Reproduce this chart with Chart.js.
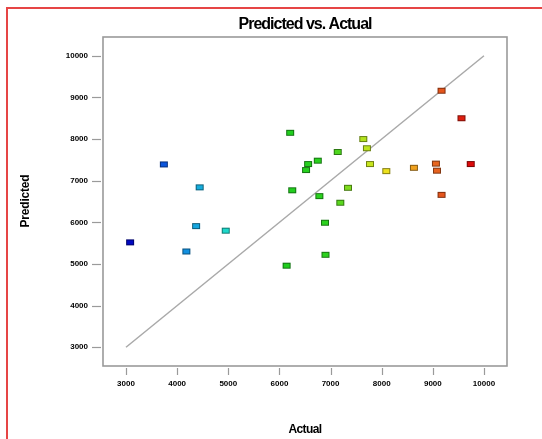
<!DOCTYPE html>
<html>
<head>
<meta charset="utf-8">
<title>Predicted vs. Actual</title>
<script src="https://cdn.jsdelivr.net/npm/chart.js@4.4.1/dist/chart.umd.min.js"></script>
<style>
	html, body { margin: 0; padding: 0; background: #fff; overflow: hidden; }
	#wrap { position: relative; width: 542px; height: 439px; }
	#frame {
		position: absolute; left: 6px; top: 7px; width: 600px; height: 500px;
		border-left: 2px solid #e64545; border-top: 2px solid #e64545;
		pointer-events: none;
	}
	canvas { position: absolute; left: 0; top: 0; }
</style>
</head>
<body>
<div id="wrap">
	<canvas id="pvaChart" width="542" height="439"></canvas>
	<div id="frame"></div>
</div>
<script>
// Actual vs. predicted runs
const actual = [3080, 3740, 4440, 4370, 4180, 4950, 6210, 6250, 6140, 6560, 6520, 6750, 7140, 6780, 7190,
	7340, 6890, 6900, 7640, 7710, 7770, 8090, 8630, 9060, 9080, 9170, 9170, 9560, 9740];
const predicted = [5520, 7390, 6840, 5910, 5300, 5800, 8150, 6770, 4960, 7400, 7255, 7480, 7690, 6630, 6470,
	6830, 5990, 5220, 8000, 7780, 7400, 7230, 7310, 7410, 7240, 6660, 9160, 8500, 7400];
const tickValues = [3000, 4000, 5000, 6000, 7000, 8000, 9000, 10000];
const axisMin = 2550;
const axisMax = 10450;

// colour ramp by actual value, blue (low) to red (high)
const ramp = [
	[3000, [0, 0, 190]],
	[3700, [10, 80, 220]],
	[4300, [20, 160, 225]],
	[5000, [30, 220, 200]],
	[6000, [30, 205, 30]],
	[7000, [45, 210, 30]],
	[7400, [140, 220, 30]],
	[8000, [235, 235, 30]],
	[8600, [240, 165, 30]],
	[9100, [230, 95, 30]],
	[9700, [220, 10, 10]],
];

function rampColor(v) {
	if (v <= ramp[0][0]) return ramp[0][1];
	for (let i = 1; i < ramp.length; i++) {
		if (v <= ramp[i][0]) {
			const a = ramp[i - 1], b = ramp[i];
			const t = (v - a[0]) / (b[0] - a[0]);
			return a[1].map((c, k) => Math.round(c + (b[1][k] - c) * t));
		}
	}
	return ramp[ramp.length - 1][1];
}

// small flat rectangle markers, cached per colour
const markerCache = {};
function marker(rgb) {
	const key = rgb.join(",");
	if (markerCache[key]) return markerCache[key];
	const c = document.createElement("canvas");
	c.width = 10;
	c.height = 8;
	const g = c.getContext("2d");
	g.fillStyle = "rgb(" + key + ")";
	g.fillRect(1, 1, 8, 6);
	g.strokeStyle = "rgba(" + rgb.map((v) => Math.round(v * 0.45)).join(",") + ",0.8)";
	g.lineWidth = 1;
	g.strokeRect(1.5, 1.5, 7, 5);
	markerCache[key] = c;
	return c;
}

const points = actual.map((a, i) => ({ x: a, y: predicted[i] }));

// box, tick marks and titles
const framePlugin = {
	id: "frame",
	afterDraw(chart) {
		const ctx = chart.ctx;
		const area = chart.chartArea;
		const xs = chart.scales.x;
		const ys = chart.scales.y;
		ctx.save();
		ctx.strokeStyle = "#9a9a9a";
		ctx.lineWidth = 1.6;
		ctx.strokeRect(area.left, area.top, area.right - area.left, area.bottom - area.top);

		ctx.lineWidth = 1.2;
		tickValues.forEach((v) => {
			const py = Math.round(ys.getPixelForValue(v)) + 0.5;
			ctx.beginPath();
			ctx.moveTo(area.left - 11, py);
			ctx.lineTo(area.left - 2, py);
			ctx.stroke();
			const px = Math.round(xs.getPixelForValue(v)) + 0.5;
			ctx.beginPath();
			ctx.moveTo(px, area.bottom + 2);
			ctx.lineTo(px, area.bottom + 9);
			ctx.stroke();
		});

		ctx.fillStyle = "#000";
		ctx.textAlign = "center";
		ctx.textBaseline = "middle";
		const cx = (area.left + area.right) / 2;

		ctx.font = "bold 16px 'Liberation Sans', Arial, sans-serif";
		ctx.letterSpacing = "-1px";
		ctx.fillText("Predicted vs. Actual", cx, 25);

		ctx.font = "bold 12px 'Liberation Sans', Arial, sans-serif";
		ctx.letterSpacing = "-0.6px";
		ctx.fillText("Actual", cx, 430);

		ctx.letterSpacing = "-0.2px";
		ctx.translate(26, 201);
		ctx.rotate(-Math.PI / 2);
		ctx.fillText("Predicted", 0, 0);
		ctx.restore();
	},
};

const tickFont = { family: "'Liberation Sans', Arial, sans-serif", size: 8, weight: "bold" };

new Chart(document.getElementById("pvaChart").getContext("2d"), {
	type: "scatter",
	data: {
		datasets: [
			{
				label: "Runs",
				data: points,
				order: 0,
				pointStyle: (ctx) => marker(rampColor(ctx.raw ? ctx.raw.x : 0)),
				pointRadius: 5,
			},
			{
				label: "Ideal",
				type: "line",
				data: [
					{ x: tickValues[0], y: tickValues[0] },
					{ x: tickValues[tickValues.length - 1], y: tickValues[tickValues.length - 1] },
				],
				order: 1,
				borderColor: "#a9a9a9",
				borderWidth: 1.5,
				pointRadius: 0,
				fill: false,
			},
		],
	},
	options: {
		responsive: false,
		animation: false,
		events: [],
		layout: { padding: { left: 0, right: 35, top: 37, bottom: 0 } },
		plugins: {
			legend: { display: false },
			tooltip: { enabled: false },
		},
		scales: {
			x: {
				type: "linear",
				min: axisMin,
				max: axisMax,
				grid: { display: false, drawTicks: false },
				border: { display: false },
				afterBuildTicks: (s) => { s.ticks = tickValues.map((v) => ({ value: v })); },
				afterFit: (s) => { s.height = 73; },
				ticks: {
					font: tickFont,
					color: "#000",
					padding: 13,
					maxRotation: 0,
					autoSkip: false,
					callback: (v) => String(v),
				},
			},
			y: {
				type: "linear",
				min: axisMin,
				max: axisMax,
				grid: { display: false, drawTicks: false },
				border: { display: false },
				afterBuildTicks: (s) => { s.ticks = tickValues.map((v) => ({ value: v })); },
				afterFit: (s) => { s.width = 103; },
				ticks: {
					font: tickFont,
					color: "#000",
					padding: 15,
					autoSkip: false,
					callback: (v) => String(v),
				},
			},
		},
	},
	plugins: [framePlugin],
});
</script>
</body>
</html>
